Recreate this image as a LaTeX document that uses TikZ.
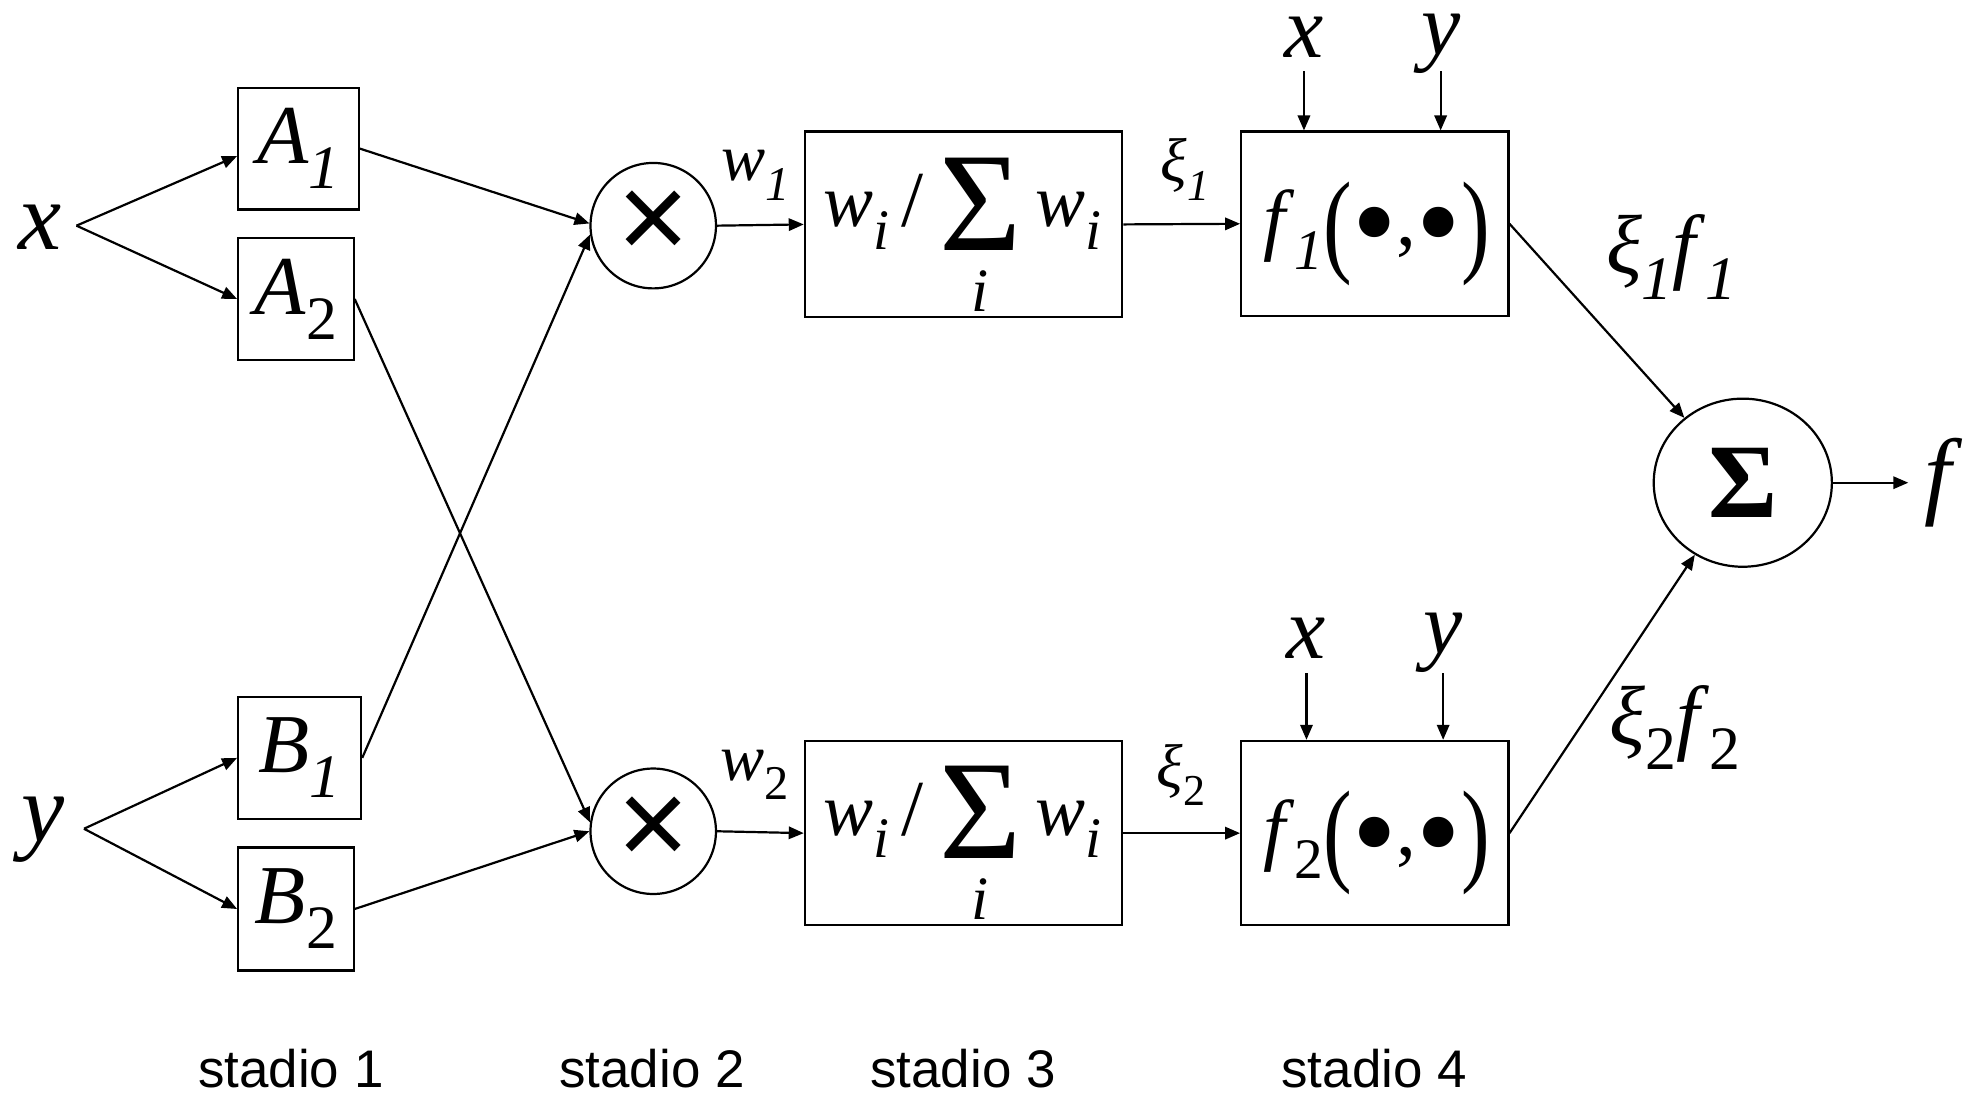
\documentclass[tikz,border=0pt]{standalone}
\usepackage{fontspec}
\setmainfont{Liberation Serif}
\newfontfamily\arial{Liberation Sans}
\usetikzlibrary{arrows.meta,calc,shapes.geometric}
\newcommand\fsz[1]{\fontsize{#1}{#1}\selectfont}
\newcommand\lowsub[2]{\raisebox{-0.3em}{\fsz{#1}#2}}
\newcommand\bigdot{\raisebox{-4.3pt}{\scalebox{1.6}{•}}}
\newcommand\fparen[1]{\raisebox{-3.5pt}{\scalebox{0.75}[1]{\fsz{26}#1}}}
\newcommand\fargs{\fparen{(}\bigdot{\fsz{18},}\bigdot\fparen{)}}
\tikzset{
  box/.style={draw,line width=0.5pt,inner sep=0pt},
  rnd/.style={draw,circle,line width=0.5pt,inner sep=0pt,minimum size=1cm},
  conn/.style={line width=0.5pt,-{Triangle[length=3.4pt,width=2.8pt]}},
  lbl/.style={inner sep=0pt},
}
\begin{document}
\begin{tikzpicture}[x=0.01cm,y=-0.01cm]
\useasboundingbox (0,0) rectangle (1568,871);
% stage 1
\node[lbl] (xl) at (32,181) {\fsz{22}\textit{x}};
\coordinate (xj) at (61,180);
\node[box,minimum width=0.96cm,minimum height=0.97cm] (A1) at (238,118.5) {\fsz{19}\textit{A}\lowsub{14}{\textit{1}}};
\node[box,minimum width=0.92cm,minimum height=0.97cm] (A2) at (236,238.5) {\fsz{19}\textit{A}\lowsub{14}{2}};
\node[lbl] (yl) at (34,662) {\fsz{22}\textit{y}};
\coordinate (yj) at (67,661);
\node[box,minimum width=0.98cm,minimum height=0.97cm] (B1) at (239,604.5) {\fsz{19}\textit{B}\lowsub{14}{\textit{1}}};
\node[box,minimum width=0.92cm,minimum height=0.98cm] (B2) at (236,725) {\fsz{19}\textit{B}\lowsub{14}{2}};
\draw[conn] (xj) -- ($(A1.west)+(0,6)$);
\draw[conn] (xj) -- (A2.west);
\draw[conn] (yj) -- (B1.west);
\draw[conn] (yj) -- (B2.west);
% stage 2
\node[rnd] (c1) at (521,180) {\arial\fsz{28}×};
\node[rnd] (c2) at (521,663) {\arial\fsz{28}×};
\draw[conn] (A1.east) -- (c1.178);
\draw[conn] (B1.east) -- (c1.188);
\draw[conn] (A2.east) -- (c2.172);
\draw[conn] (B2.east) -- (c2.west);
\node[lbl] (w1) at (603,140) {\fsz{15}\textit{w}\lowsub{11}{\textit{1}}};
\node[lbl] (w2) at (602,618) {\fsz{15}\textit{w}\lowsub{11}{2}};
% stage 3
\node[box,minimum width=2.53cm,minimum height=1.48cm] (n1) at (768.5,179) {};
\node[box,minimum width=2.53cm,minimum height=1.47cm] (n2) at (768.5,664.5) {};
\draw[conn] (c1.east) -- (n1.west);
\draw[conn] (c2.east) -- (n2.west);
\node[lbl,anchor=base west] (n1a) at (656,181) {\fsz{17}\textit{w}\lowsub{13}{\textit{i}}};
\node[lbl,anchor=base] (n1s) at (728,181) {\fsz{18}/};
\node[lbl,anchor=base] (n1S) at (782,200) {\fsz{32}Σ};
\node[lbl,anchor=base west] (n1b) at (825,181) {\fsz{17}\textit{w}\lowsub{13}{\textit{i}}};
\node[lbl] (n1i) at (782,232) {\fsz{14}\textit{i}};
\node[lbl,anchor=base west] (n2a) at (656,666) {\fsz{17}\textit{w}\lowsub{13}{\textit{i}}};
\node[lbl,anchor=base] (n2s) at (728,666) {\fsz{18}/};
\node[lbl,anchor=base] (n2S) at (782,685) {\fsz{32}Σ};
\node[lbl,anchor=base west] (n2b) at (825,666) {\fsz{17}\textit{w}\lowsub{13}{\textit{i}}};
\node[lbl] (n2i) at (782,717) {\fsz{14}\textit{i}};
\node[lbl] (xi1) at (945,135) {\fsz{14}\textit{ξ}\lowsub{10}{\textit{1}}};
\node[lbl] (xi2) at (942,618) {\fsz{14}\textit{ξ}\lowsub{10}{2}};
% stage 4
\node[box,minimum width=2.13cm,minimum height=1.47cm] (f1) at (1096.5,178.5) {};
\node[box,minimum width=2.13cm,minimum height=1.47cm] (f2) at (1096.5,664.5) {};
\node[lbl,anchor=base] (f1t) at (1098,196) {\fsz{18}\textit{f}\lowsub{13}{\textit{1}}\fargs};
\node[lbl,anchor=base] (f2t) at (1098,682) {\fsz{18}\textit{f}\lowsub{13}{2}\fargs};
\draw[conn] (n1.east) -- (f1.west);
\draw[conn] (n2.east) -- (f2.west);
\node[lbl] (f1x) at (1040,30) {\fsz{20}\textit{x}};
\node[lbl] (f1y) at (1149,35) {\fsz{20}\textit{y}};
\node[lbl] (f2x) at (1042,509) {\fsz{20}\textit{x}};
\node[lbl] (f2y) at (1151,513) {\fsz{20}\textit{y}};
\coordinate (f1xs) at (1040,57);
\coordinate (f1ys) at (1149,57);
\coordinate (f2xs) at (1042,537);
\coordinate (f2ys) at (1151,537);
\draw[conn] (f1xs) -- (f1xs |- f1.north);
\draw[conn] (f1ys) -- (f1ys |- f1.north);
\draw[conn] (f2xs) -- (f2xs |- f2.north);
\draw[conn] (f2ys) -- (f2ys |- f2.north);
% output
\node[draw,ellipse,line width=0.5pt,inner sep=0pt,minimum width=1.42cm,minimum height=1.34cm] (sig) at (1390,385) {\fsz{24}\textbf{Σ}};
\draw[conn] (f1.east) -- (sig);
\draw[conn] (f2.east) -- (sig);
\coordinate (fo) at (1522,385);
\draw[conn] (sig.east) -- (fo);
\node[lbl] (fl) at (1550,385) {\fsz{22}\textit{f}};
\node[lbl] (xf1) at (1333,205) {\fsz{19}\textit{ξ}\lowsub{14}{\textit{1}}\textit{f}\lowsub{14}{\textit{1}}};
\node[lbl] (xf2) at (1336,580) {\fsz{19}\textit{ξ}\lowsub{14}{2}\textit{f}\lowsub{14}{2}};
% stage labels
\node[lbl] (s1) at (232,852) {\arial\fsz{12}stadio 1};
\node[lbl] (s2) at (520,852) {\arial\fsz{12}stadio 2};
\node[lbl] (s3) at (768,852) {\arial\fsz{12}stadio 3};
\node[lbl] (s4) at (1096,852) {\arial\fsz{12}stadio 4};
\end{tikzpicture}
\end{document}
